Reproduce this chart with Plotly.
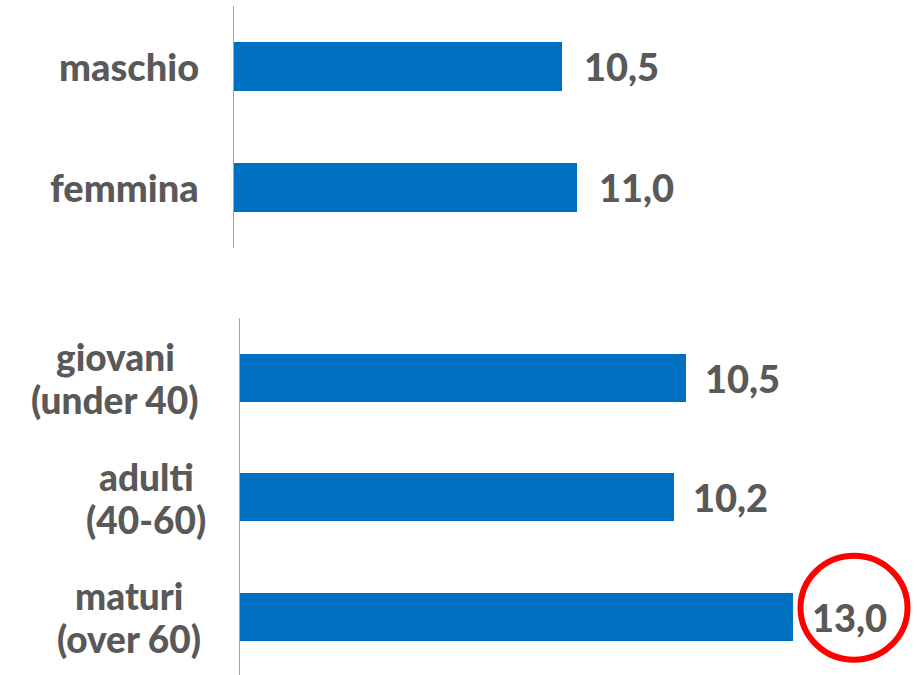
import plotly.graph_objects as go

gender_labels = ["maschio", "femmina"]
gender_values = [10.5, 11.0]
age_labels = ["giovani<br>(under 40)", "adulti<br>(40-60)", "maturi<br>(over 60)"]
age_values = [10.5, 10.2, 13.0]
gender_text = ["10,5", "11,0"]
age_text = ["10,5", "10,2", "13,0"]
highlight_index = 2

W, H = 917, 675
BAR = "#0070C0"
GREY = "#595959"
AXIS = "#A6A6A6"
FONT = "Lato"
WEIGHT = 900

fig = go.Figure()
fig.add_trace(go.Bar(x=gender_values, y=gender_labels, orientation="h",
                     marker=dict(color=BAR, line=dict(width=0)), width=0.397,
                     xaxis="x", yaxis="y", hoverinfo="skip"))
fig.add_trace(go.Bar(x=age_values, y=age_labels, orientation="h",
                     marker=dict(color=BAR, line=dict(width=0)), width=0.40,
                     xaxis="x2", yaxis="y2", hoverinfo="skip"))

annotations = []
for lab, v, t in zip(gender_labels, gender_values, gender_text):
    annotations.append(dict(x=v, y=lab, xref="x", yref="y", text=t, showarrow=False,
                            xanchor="left", xshift=20,
                            font=dict(family=FONT, size=38, color=GREY, weight=WEIGHT)))
    annotations.append(dict(x=201 / W, y=lab, xref="paper", yref="y", text=lab, showarrow=False,
                            xanchor="right", align="center",
                            font=dict(family=FONT, size=38, color=GREY, weight=WEIGHT)))

# centre x (px) of each two-line label block
centres = [115, 146, 129]
for i, (lab, v, t) in enumerate(zip(age_labels, age_values, age_text)):
    annotations.append(dict(x=v, y=lab, xref="x2", yref="y2", text=t, showarrow=False,
                            xanchor="left", xshift=17,
                            font=dict(family=FONT, size=38, color=GREY, weight=WEIGHT)))
    for line, ys in zip(lab.split("<br>"), [21, -22]):
        annotations.append(dict(x=centres[i] / W, y=lab, xref="paper", yref="y2",
                                text=line, showarrow=False, yshift=ys, xanchor="center",
                                font=dict(family=FONT, size=37, color=GREY, weight=WEIGHT)))

shapes = [dict(type="circle", xref="x2", yref="y2", xsizemode="pixel", ysizemode="pixel",
               xanchor=age_values[highlight_index], yanchor=age_labels[highlight_index],
               x0=8, x1=115, y0=-43, y1=61,
               line=dict(color="#FF0000", width=6), fillcolor="rgba(0,0,0,0)")]

fig.update_layout(
    width=W, height=H, margin=dict(l=0, r=0, t=0, b=0),
    paper_bgcolor="white", plot_bgcolor="white", showlegend=False,
    bargap=0,
    xaxis=dict(domain=[234 / W, 1], range=[0, 683 / 31.2], visible=False, fixedrange=True),
    yaxis=dict(domain=[1 - 248 / H, 1 - 6 / H], autorange="reversed", showticklabels=False,
               showline=True, linecolor=AXIS, linewidth=1.3, ticks="", showgrid=False,
               zeroline=False, fixedrange=True),
    xaxis2=dict(domain=[240 / W, 1], range=[0, 677 / 42.5], visible=False, fixedrange=True),
    yaxis2=dict(domain=[0, 1 - 318 / H], range=[-0.5 + 357 / 119.5, -0.5],
                showticklabels=False,
                showline=True, linecolor=AXIS, linewidth=1.3, ticks="", showgrid=False,
                zeroline=False, anchor="x2", fixedrange=True),
    annotations=annotations,
    shapes=shapes,
)

fig.write_html("out.html", config={"displayModeBar": False},
               post_script="document.body.style.margin='0px';")
